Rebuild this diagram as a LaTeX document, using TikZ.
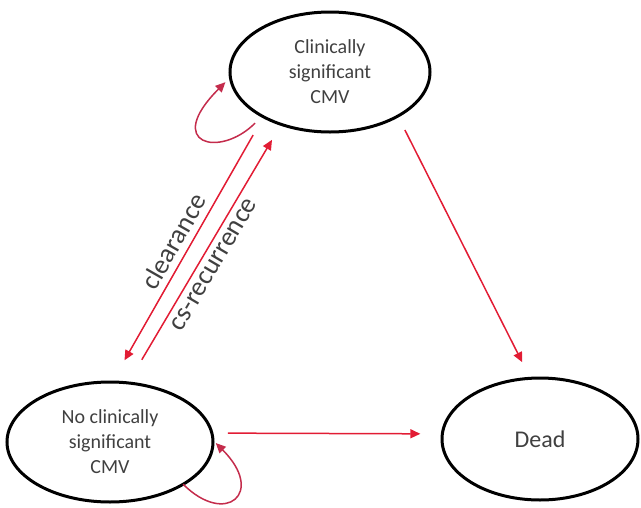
\documentclass[tikz,border=0pt]{standalone}
\usepackage{fontspec}
\setmainfont{Carlito}
\usetikzlibrary{arrows.meta,shapes.geometric}
\definecolor{arrred}{RGB}{226,28,52}
\definecolor{loopred}{RGB}{196,44,76}
\definecolor{txtgray}{RGB}{64,64,64}

\begin{document}
\begin{tikzpicture}[x=1pt, y=1pt,
  state/.style={draw, ellipse, line width=3pt, inner sep=0pt, outer sep=0pt, align=center,
    text=txtgray, font=\fontsize{20}{25}\selectfont},
  arr/.style={-{Triangle[length=10pt,width=9pt]}, line width=1.5pt, arrred},
  selfloop/.style={arr, loopred},
  lbl/.style={font=\fontsize{27}{30}\selectfont, text=txtgray, sloped}]
\useasboundingbox (0,0) rectangle (641,-507);
\node[state, minimum width=200pt, minimum height=120pt] (cs) at (330,-72) {Clinically\\significant\\CMV};
\node[state, minimum width=206pt, minimum height=120pt] (nocs) at (110,-442) {No clinically\\significant\\CMV};
\node[state, minimum width=196pt, minimum height=122pt, font=\fontsize{24}{28}\selectfont] (dead) at (540,-439) {Dead};
\draw[arr, shorten <=15.6pt, shorten >=18pt] (cs.-33) -- (dead.99);
\draw[arr, shorten <=21pt, shorten >=25pt] (cs.214) -- node[lbl, above=3pt] (clr) {clearance} (nocs.88);
\draw[arr, shorten <=27pt, shorten >=18pt] (nocs.73) -- node[lbl, below=3pt, pos=0.485] (rec) {cs-recurrence} (cs.227);
\draw[arr, shorten <=16pt, shorten >=22pt] (nocs.5) -- (dead.177);
% self loops
\draw[selfloop, shorten <=10pt, shorten >=7pt] (cs.213) .. controls +(-135:60) and +(225:95) .. (cs.183);
\draw[selfloop, shorten >=4pt] (nocs.-30) .. controls +(-45:60) and +(-45:75) .. (nocs.1);
\end{tikzpicture}
\end{document}
